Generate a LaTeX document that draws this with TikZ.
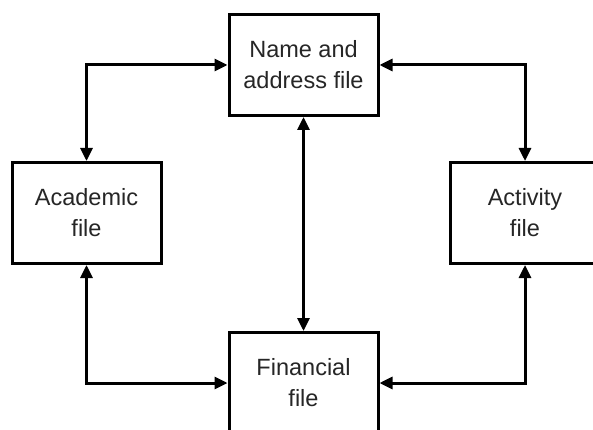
\documentclass[tikz,border=0pt]{standalone}
\usepackage{fontspec}
\setmainfont{Liberation Sans}
\usetikzlibrary{arrows.meta}
\begin{document}
\begin{tikzpicture}[x=1pt,y=-1pt,
  filebox/.style={draw=black,line width=3pt,minimum width=149pt,minimum height=101pt,
    align=center,inner sep=0pt,font=\fontsize{23.5}{31}\selectfont,text=black!85},
  link/.style={line width=3pt,{Triangle[length=13pt,width=12pt]}-{Triangle[length=13pt,width=12pt]}}]
\useasboundingbox (0,0) rectangle (593,430);
\clip (0,0) rectangle (593,430);
\fill[white] (0,0) rectangle (593,430);
\node[filebox] (name) at (303.5,65) {Name and\\address file};
\node[filebox] (acad) at (86.5,213) {Academic\\file};
\node[filebox] (act) at (525,213) {Activity\\file};
\node[filebox] (fin) at (303.5,383) {Financial\\file};
\draw[link] (acad.north) |- (name.west);
\draw[link] (act.north) |- (name.east);
\draw[link] (name.south) -- (fin.north);
\draw[link] (acad.south) |- (fin.west);
\draw[link] (act.south) |- (fin.east);
\end{tikzpicture}
\end{document}
